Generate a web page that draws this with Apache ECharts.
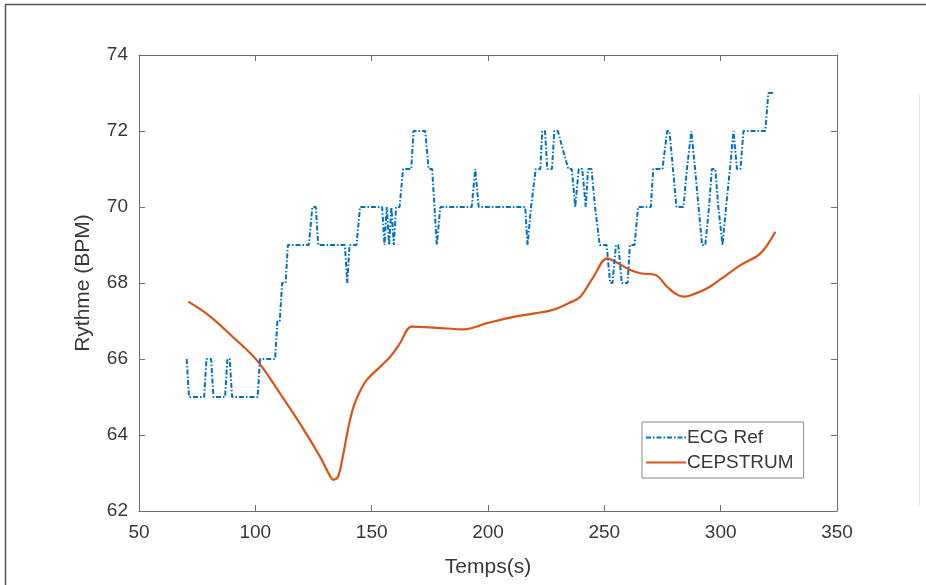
<!DOCTYPE html>
<html>
<head>
<meta charset="utf-8">
<script src="https://cdn.jsdelivr.net/npm/echarts@6/dist/echarts.min.js"></script>
<style>
html,body{margin:0;padding:0;background:#fff;}
#chart{width:926px;height:585px;}
</style>
</head>
<body>
<div id="chart"></div>
<script>
// ---- Data ----
const xTicks = [50, 100, 150, 200, 250, 300, 350];
const yTicks = [62, 64, 66, 68, 70, 72, 74];

const ecgTime = [70.5,71.5,78,79,81,82,87,88,89,90,101,102,108.5,109.5,110.5,111.5,113,114,123,124.5,126,127,138.5,139.5,140.5,143.5,145,154.5,155.5,156.5,157.5,158.5,159.5,160.5,162,163.5,167,168,173,174.5,176,177,178,179.5,193,194.5,196,216,217,218.5,220.5,222.5,223.3,224.5,225.5,227.5,228.5,230,234.5,236,237.5,239,240.5,242,243,244.5,246,248,251,252.5,253.5,255,256,257.5,260,261,263,264.5,270,271,275,277,278,279.5,281,284,285.5,287.4,289,290.5,292,293.4,295,296.2,297.7,299,300.8,302.3,304,305.5,307,308.5,309.8,319.2,320.5,322.7];
const ecgBpm  = [66,65,65,66,66,65,65,66,66,65,65,66,66,67,67,68,68,69,69,70,70,69,69,68,69,69,70,70,69,70,69,70,69,70,70,71,71,72,72,71,71,70,69,70,70,71,70,70,69,70,71,71,72,72,71,71,72,72,71,71,70,71,71,70,71,71,70,69,69,68,68,69,69,68,68,69,69,70,70,71,71,72,72,71,70,70,71,72,71,70,69,69,70,71,71,70,69,70,71,72,71,71,72,72,73,73];

const cepTime = [71.2,80,90,100.6,110,119.2,127.8,131,133.6,135.5,137.5,140,142.2,145,147.9,153.7,158,162,167.3,178,189.5,200,211,220,228.2,235,239.7,245.4,251.2,255,261.2,266,272,277,281,284.1,289,294.2,300,308.5,317.1,323.5];
const cepBpm  = [67.51,67.15,66.6,65.97,65.15,64.3,63.43,63.05,62.82,62.9,63.4,64.2,64.74,65.15,65.45,65.8,66.06,66.4,66.85,66.82,66.78,66.95,67.11,67.2,67.3,67.48,67.64,68.17,68.65,68.55,68.34,68.25,68.21,67.9,67.7,67.64,67.72,67.86,68.1,68.47,68.78,69.35];

const seriesNames = ['ECG Ref', 'CEPSTRUM'];

// ---- Build ----
const ecgData = ecgTime.map((t, i) => [t, ecgBpm[i]]);
const cepData = cepTime.map((t, i) => [t, cepBpm[i]]);

const axisColor = '#6e6e6e';
const textColor = '#383838';
const font = 'Liberation Sans, Arial, sans-serif';

const chart = echarts.init(document.getElementById('chart'), null, {renderer: 'canvas'});
chart.setOption({
  animation: false,
  backgroundColor: '#ffffff',
  grid: {left: 139, right: 89, top: 55, bottom: 74, show: false},
  xAxis: [{
    type: 'value', min: xTicks[0], max: xTicks[xTicks.length - 1], interval: 50,
    position: 'bottom',
    name: 'Temps(s)', nameLocation: 'middle', nameGap: 46,
    nameTextStyle: {fontFamily: font, fontSize: 21, color: textColor},
    axisLine: {show: true, onZero: false, lineStyle: {color: axisColor, width: 1}},
    axisTick: {show: true, inside: true, length: 6, lineStyle: {color: axisColor}},
    axisLabel: {fontFamily: font, fontSize: 19, color: textColor, margin: 12},
    splitLine: {show: false}
  }, {
    type: 'value', min: xTicks[0], max: xTicks[xTicks.length - 1], interval: 50,
    position: 'top',
    axisLine: {show: true, onZero: false, lineStyle: {color: axisColor, width: 1}},
    axisTick: {show: true, inside: true, length: 6, lineStyle: {color: axisColor}},
    axisLabel: {show: false},
    splitLine: {show: false}
  }],
  yAxis: [{
    type: 'value', min: yTicks[0], max: yTicks[yTicks.length - 1], interval: 2,
    position: 'left',
    name: 'Rythme (BPM)', nameLocation: 'middle', nameGap: 45,
    nameTextStyle: {fontFamily: font, fontSize: 21, color: textColor},
    axisLine: {show: true, onZero: false, lineStyle: {color: axisColor, width: 1}},
    axisTick: {show: true, inside: true, length: 6, lineStyle: {color: axisColor}},
    axisLabel: {fontFamily: font, fontSize: 19, color: textColor, margin: 11},
    splitLine: {show: false}
  }, {
    type: 'value', min: yTicks[0], max: yTicks[yTicks.length - 1], interval: 2,
    position: 'right',
    axisLine: {show: true, onZero: false, lineStyle: {color: axisColor, width: 1}},
    axisTick: {show: true, inside: true, length: 6, lineStyle: {color: axisColor}},
    axisLabel: {show: false},
    splitLine: {show: false}
  }],
  legend: {
    orient: 'vertical',
    left: 642, top: 422,
    padding: [6, 10, 6, 3],
    itemGap: 6,
    itemWidth: 40, itemHeight: 12,
    backgroundColor: '#ffffff',
    borderColor: '#888888', borderWidth: 1,
    itemStyle: {color: 'rgba(0,0,0,0)', borderWidth: 0, opacity: 0},
    textStyle: {fontFamily: font, fontSize: 19, color: textColor, padding: [0, 0, 0, -4]},
    data: seriesNames
  },
  series: [{
    name: seriesNames[0], type: 'line', data: ecgData,
    xAxisIndex: 0, yAxisIndex: 0,
    showSymbol: false, symbol: 'none',
    lineStyle: {color: '#0072BD', width: 2, type: [5, 2, 1.5, 2]},
    itemStyle: {color: '#0072BD'},
    z: 3
  }, {
    name: seriesNames[1], type: 'line', data: cepData,
    xAxisIndex: 0, yAxisIndex: 0,
    showSymbol: false, symbol: 'none',
    smooth: 0.35,
    lineStyle: {color: '#D95319', width: 2.2},
    itemStyle: {color: '#D95319'},
    z: 2
  }],
  graphic: [
    {type: 'line', shape: {x1: 5, y1: 4.5, x2: 926, y2: 4.5}, style: {stroke: '#555', lineWidth: 1.5}, silent: true},
    {type: 'line', shape: {x1: 5.5, y1: 4, x2: 5.5, y2: 585}, style: {stroke: '#555', lineWidth: 1.5}, silent: true},
    {type: 'line', shape: {x1: 919.5, y1: 95, x2: 919.5, y2: 505}, style: {stroke: '#e2e2e2', lineWidth: 1}, silent: true}
  ]
});
</script>
</body>
</html>
